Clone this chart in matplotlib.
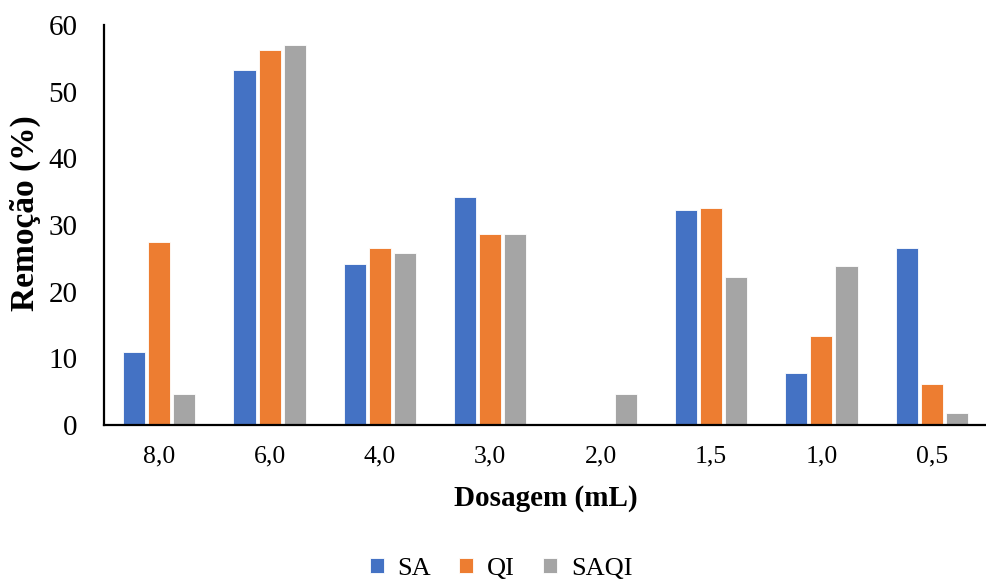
import matplotlib
matplotlib.use("Agg")
import matplotlib.pyplot as plt
import numpy as np

categories = ["8,0", "6,0", "4,0", "3,0", "2,0", "1,5", "1,0", "0,5"]
series_names = ["SA", "QI", "SAQI"]
sa = [11.0, 53.3, 24.2, 34.2, 0.0, 32.2, 7.8, 26.6]
qi = [27.4, 56.2, 26.6, 28.6, 0.0, 32.6, 13.4, 6.2]
saqi = [4.6, 57.0, 25.8, 28.6, 4.6, 22.2, 23.8, 1.8]
colors = ["#4472C4", "#ED7D31", "#A5A5A5"]

plt.rcParams['font.family'] = ['Liberation Serif', 'DejaVu Serif']

fig = plt.figure(figsize=(9.87, 5.81), dpi=100)
ax = fig.add_axes([104/987, 1-425/581, (987-104)/987, 400/581])

x = np.arange(len(categories))
step = 0.227
w = 0.20
for i, (vals, name, c) in enumerate(zip([sa, qi, saqi], series_names, colors)):
    ax.bar(x + (i-1)*step, vals, width=w, color=c, label=name,
           edgecolor='white', linewidth=0.6)

ax.set_xlim(-0.5, len(categories)-0.5)
ax.set_ylim(0, 60)
ax.set_yticks(np.arange(0, 61, 10))
ax.set_xticks(x)
ax.set_xticklabels(categories)
ax.tick_params(axis='both', length=0)
ax.tick_params(axis='y', labelsize=21, pad=19)
ax.tick_params(axis='x', labelsize=18.5, pad=15)
for s in ['top', 'right']:
    ax.spines[s].set_visible(False)
ax.spines['left'].set_linewidth(1.6)
ax.spines['bottom'].set_linewidth(1.6)
ax.set_ylabel("Remoção (%)", fontsize=24, fontweight='bold')
ax.yaxis.set_label_coords(-63/883, 0.53)
ax.set_xlabel("Dosagem (mL)", fontsize=21, fontweight='bold', labelpad=12)

fig.legend(loc='center', bbox_to_anchor=(0.5076, 1-569/581), ncol=3, frameon=False,
           fontsize=19, handlelength=0.53, handleheight=0.53, columnspacing=1.06,
           handletextpad=0.53)

fig.savefig("out.png", dpi=100)
